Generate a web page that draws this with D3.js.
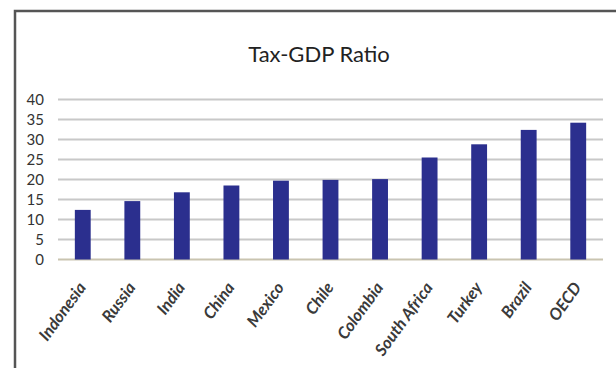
<!DOCTYPE html>
<html><head><meta charset="utf-8">
<script src="https://cdn.jsdelivr.net/npm/d3@7"></script>
<style>body{margin:0;background:#fff;}svg{display:block;}</style>
</head><body>
<script>
const categories = ["Indonesia","Russia","India","China","Mexico","Chile","Colombia","South Africa","Turkey","Brazil","OECD"];
const values = [12.4, 14.6, 16.8, 18.5, 19.7, 19.9, 20.1, 25.5, 28.8, 32.4, 34.2];
const yTicks = [0,5,10,15,20,25,30,35,40];
const title = "Tax-GDP Ratio";

const W = 616, H = 368;
const svg = d3.select("body").append("svg").attr("width", W).attr("height", H);
svg.append("rect").attr("width", W).attr("height", H).attr("fill", "#fff");

// frame (top and left only)
svg.append("path").attr("d", "M15,368 V11 H616").attr("fill", "none").attr("stroke", "#555").attr("stroke-width", 2.5);

const x = d3.scaleBand().domain(categories).range([58, 603]).paddingInner(0.68).paddingOuter(0.34);
const y = d3.scaleLinear().domain([0, 40]).range([259.5, 99.5]);

// gridlines
svg.append("g").selectAll("line").data(yTicks).join("line")
  .attr("x1", 58).attr("x2", 603)
  .attr("y1", d => y(d)).attr("y2", d => y(d))
  .attr("stroke", d => d === 0 ? "#c9c4b0" : "#c8c8c8").attr("stroke-width", 2);

// y axis labels
const yAxis = d3.axisLeft(y).tickValues(yTicks).tickSize(0).tickPadding(0);
const gy = svg.append("g").attr("transform", "translate(44,0)").call(yAxis);
gy.select(".domain").remove();
gy.selectAll("text").attr("font-family", "Lato, 'Open Sans', sans-serif").attr("font-size", 15).attr("fill", "#333");

// bars
svg.append("g").selectAll("rect").data(values).join("rect")
  .attr("x", (d, i) => x(categories[i]))
  .attr("width", x.bandwidth())
  .attr("y", d => y(d))
  .attr("height", d => y(0) - y(d))
  .attr("fill", "#2b2f8e");

// x labels
const xAxis = d3.axisBottom(x).tickSize(0).tickPadding(0);
const gx = svg.append("g").attr("transform", "translate(0,259.5)").call(xAxis);
gx.select(".domain").remove();
gx.selectAll("text")
  .attr("font-family", "Lato, 'Open Sans', sans-serif").attr("font-style", "italic").attr("font-weight", "bold")
  .attr("font-size", 16.5).attr("fill", "#3a3a3a")
  .attr("text-anchor", "end").attr("dy", 0)
  .attr("transform", "translate(4,28) rotate(-54)");

// title
svg.append("text").attr("x", 319).attr("y", 62).attr("text-anchor", "middle")
  .attr("font-family", "Lato, 'Open Sans', sans-serif").attr("font-size", 22)
  .attr("fill", "#222").text(title);
</script>
</body></html>
